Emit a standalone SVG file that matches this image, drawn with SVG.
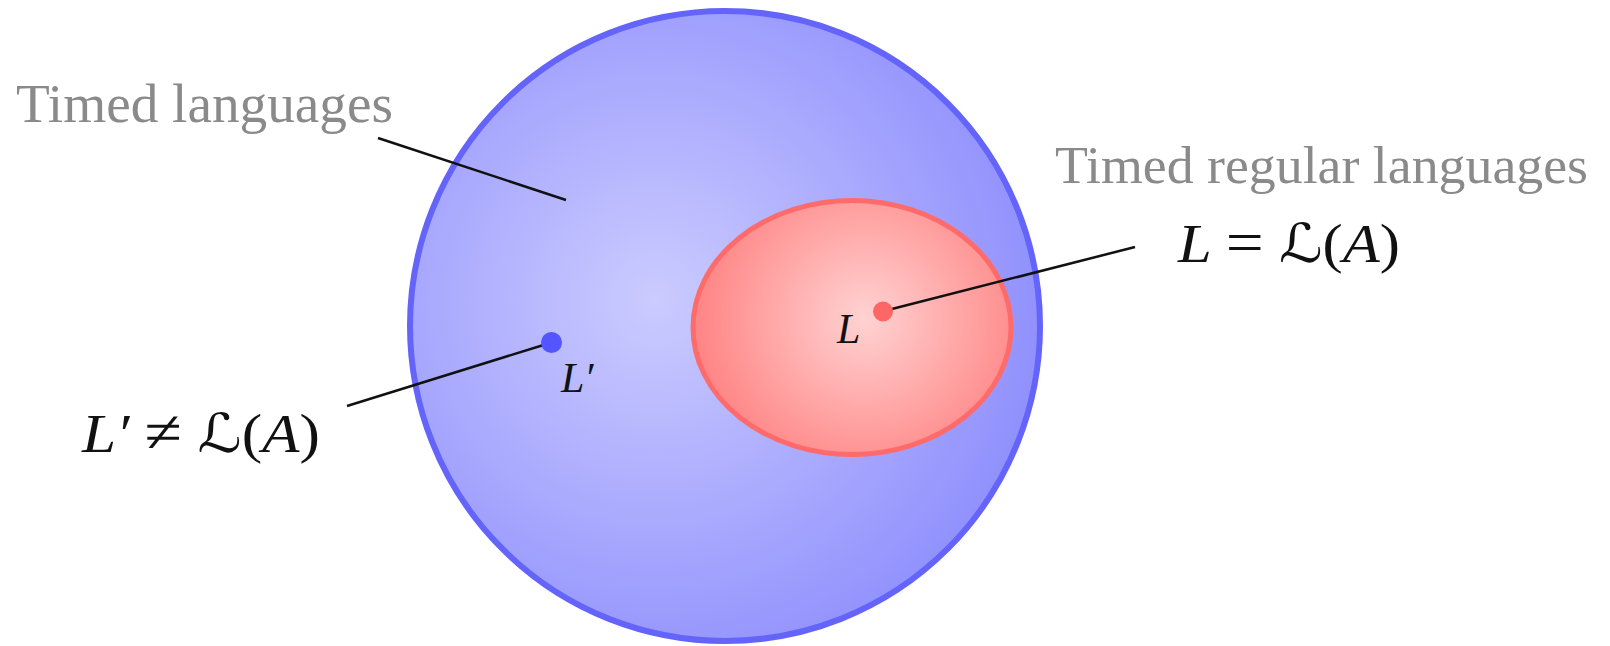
<svg xmlns="http://www.w3.org/2000/svg" width="1610" height="646" viewBox="0 0 1610 646">
<style>
.title{font-family:"Liberation Serif","DejaVu Serif",serif;fill:#8a8a8a;font-size:55px}
.math{font-family:"Liberation Serif","DejaVu Serif",serif;fill:#111;font-style:italic}
.up{font-style:normal}
.op{font-style:normal;font-size:60px}
.cal{font-style:normal;font-family:"DejaVu Sans",sans-serif}
.lead{stroke:#111;stroke-width:2.5;fill:none}
</style>
<defs>
<radialGradient id="gBlue" gradientUnits="userSpaceOnUse" cx="655" cy="300" r="400">
<stop offset="0" stop-color="#cbcbff"/>
<stop offset="1" stop-color="#8f8ffd"/>
</radialGradient>
<radialGradient id="gRed" gradientUnits="userSpaceOnUse" cx="865" cy="318" r="175">
<stop offset="0" stop-color="#ffd2d2"/>
<stop offset="1" stop-color="#ff8282"/>
</radialGradient>
</defs>
<rect width="1610" height="646" fill="#ffffff"/>
<g id="timed-languages">
<circle cx="725" cy="326" r="315" fill="url(#gBlue)" stroke="#6464fa" stroke-width="6"/>
</g>
<g id="timed-regular-languages">
<ellipse cx="852" cy="327.5" rx="159" ry="127" fill="url(#gRed)" stroke="#ff6b6b" stroke-width="5"/>
</g>
<g id="connectors">
<line class="lead" x1="378" y1="138" x2="566" y2="200"/>
<line class="lead" x1="884" y1="311" x2="1135" y2="247"/>
<line class="lead" x1="347" y1="406" x2="550" y2="343"/>
</g>
<g id="point-L">
<circle cx="883" cy="311.5" r="10" fill="#ff6666"/>
<text class="math" x="837" y="343" font-size="42">L</text>
</g>
<g id="point-Lprime">
<circle cx="551.5" cy="342.5" r="10.5" fill="#5555ff"/>
<text class="math" x="561" y="392" font-size="42">L′</text>
</g>
<g id="label-timed">
<text class="title" x="16" y="122" textLength="377" lengthAdjust="spacingAndGlyphs">Timed languages</text>
</g>
<g id="label-regular">
<text class="title" x="1055" y="183" font-size="53" style="font-size:53px" textLength="533" lengthAdjust="spacingAndGlyphs">Timed regular languages</text>
</g>
<g id="label-eq">
<text class="math" x="1178" y="262" font-size="54" textLength="222" lengthAdjust="spacingAndGlyphs">L <tspan class="op">=</tspan> <tspan class="cal">ℒ</tspan><tspan class="up">(</tspan>A<tspan class="up">)</tspan></text>
</g>
<g id="label-neq">
<text class="math" x="82" y="452" font-size="54" textLength="238" lengthAdjust="spacingAndGlyphs">L′ <tspan class="op">≠</tspan> <tspan class="cal">ℒ</tspan><tspan class="up">(</tspan>A<tspan class="up">)</tspan></text>
</g>
</svg>
